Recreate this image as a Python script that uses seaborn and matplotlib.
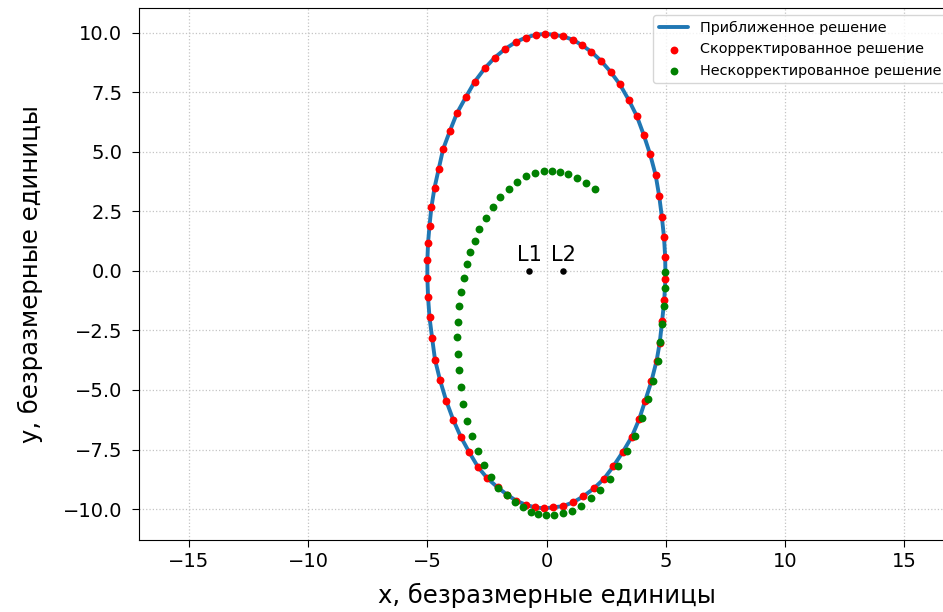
import numpy as np
import pandas as pd
import seaborn as sns
import matplotlib.pyplot as plt
from matplotlib.ticker import MultipleLocator, FuncFormatter

# Corrected solution (red points), going round counterclockwise
corr_x = [4.98, 4.93, 4.84, 4.73, 4.58, 4.35, 4.08, 3.79, 3.45, 3.08, 2.69, 2.29, 1.88, 1.49,
          1.10, 0.69, 0.31, -0.05, -0.45, -0.87, -1.29, -1.74, -2.17, -2.59, -3.01, -3.38,
          -3.76, -4.05, -4.34, -4.52, -4.70, -4.83, -4.91, -4.97, -5.00, -5.00, -4.97, -4.91,
          -4.80, -4.68, -4.47, -4.21, -3.92, -3.60, -3.24, -2.87, -2.48, -2.05, -1.65, -1.27,
          -0.87, -0.48, -0.10, 0.27, 0.68, 1.11, 1.54, 1.99, 2.41, 2.80, 3.21, 3.58, 3.89,
          4.14, 4.40, 4.62, 4.75, 4.85, 4.94, 4.99]
corr_y = [0.57, 1.41, 2.27, 3.13, 4.02, 4.89, 5.71, 6.50, 7.18, 7.83, 8.36, 8.82, 9.20, 9.48,
          9.71, 9.85, 9.92, 9.95, 9.92, 9.80, 9.61, 9.32, 8.96, 8.51, 7.95, 7.31,
          6.62, 5.89, 5.11, 4.30, 3.49, 2.68, 1.90, 1.18, 0.45, -0.29, -1.11, -1.95,
          -2.82, -3.72, -4.58, -5.45, -6.24, -6.96, -7.62, -8.24, -8.71, -9.09, -9.40, -9.65,
          -9.82, -9.93, -9.97, -9.93, -9.88, -9.72, -9.47, -9.13, -8.73, -8.21, -7.59, -6.96, -6.22,
          -5.45, -4.64, -3.77, -3.02, -2.12, -1.23, -0.33]

# Uncorrected solution (green points)
raw_x = [2.02, 1.64, 1.28, 0.91, 0.57, 0.22, -0.12, -0.48, -0.86, -1.22, -1.58, -1.95, -2.26,
         -2.55, -2.82, -3.00, -3.19, -3.35, -3.46, -3.58, -3.66, -3.71, -3.74, -3.73, -3.67,
         -3.60, -3.49, -3.32, -3.12, -2.88, -2.63, -2.33, -2.02, -1.66, -1.31, -0.99, -0.65,
         -0.34, -0.02, 0.33, 0.69, 1.07, 1.45, 1.87, 2.24, 2.65, 3.01, 3.36, 3.70, 3.99, 4.24,
         4.45, 4.66, 4.76, 4.84, 4.93, 4.98, 4.98]
raw_y = [3.42, 3.68, 3.91, 4.06, 4.17, 4.20, 4.19, 4.12, 3.98, 3.75, 3.46, 3.09, 2.69,
         2.24, 1.76, 1.27, 0.78, 0.28, -0.28, -0.87, -1.49, -2.13, -2.79, -3.47, -4.17,
         -4.86, -5.59, -6.29, -6.95, -7.57, -8.16, -8.67, -9.11, -9.43, -9.72, -9.93, -10.11,
         -10.21, -10.26, -10.25, -10.18, -10.10, -9.86, -9.55, -9.20, -8.74, -8.21, -7.56, -6.92,
         -6.16, -5.39, -4.61, -3.80, -3.00, -2.23, -1.46, -0.73, -0.06]

# Lagrange points
lagr_names = ["L1", "L2"]
lagr_x = [-0.72, 0.69]
lagr_y = [0.0, 0.0]

# approximated solution: closed curve through the corrected points
approx = pd.DataFrame({"x": corr_x + corr_x[:1], "y": corr_y + corr_y[:1]})

sns.set_style("ticks")
plt.rcParams["font.family"] = ["DejaVu Sans"]
plt.rcParams.update({"text.color": "black", "axes.labelcolor": "black",
                     "xtick.color": "black", "ytick.color": "black"})

fig = plt.figure(figsize=(9.43, 6.12), dpi=100)
ax = fig.add_axes([0.1474, 0.1176, 0.8643, 0.8693])

sns.lineplot(data=approx, x="x", y="y", sort=False, estimator=None, color="#1f77b4",
             linewidth=2.8, ax=ax, label="Приближенное решение", zorder=2)
sns.scatterplot(x=corr_x, y=corr_y, color="red", s=32, linewidth=0, ax=ax,
                label="Скорректированное решение", zorder=3)
sns.scatterplot(x=raw_x, y=raw_y, color="green", s=32, linewidth=0, ax=ax,
                label="Нескорректированное решение", zorder=4)
sns.scatterplot(x=lagr_x, y=lagr_y, color="black", s=22, linewidth=0, ax=ax, zorder=5)
for name, lx, ly in zip(lagr_names, lagr_x, lagr_y):
    ax.text(lx, ly + 0.43, name, ha="center", va="baseline", fontsize=15, color="black")

ax.set_xlim(-17.1, 17.1)
ax.set_ylim(-11.3, 11.04)
ax.xaxis.set_major_locator(MultipleLocator(5))
ax.yaxis.set_major_locator(MultipleLocator(2.5))
ax.xaxis.set_major_formatter(FuncFormatter(lambda v, p: f"{v:.0f}".replace("-", "\u2212")))
ax.yaxis.set_major_formatter(FuncFormatter(lambda v, p: f"{v:.1f}".replace("-", "\u2212")))
ax.tick_params(labelsize=14, length=5, color="black", labelcolor="black")
ax.tick_params(axis="y", pad=7)
ax.grid(True, linestyle=":", color="#c4c4c4", linewidth=0.9)
for s in ax.spines.values():
    s.set_color("black")

ax.set_xlabel("x, безразмерные единицы", fontsize=17.5, labelpad=9, color="black")
ax.set_ylabel("y, безразмерные единицы", fontsize=17.5, labelpad=14, color="black")
leg = ax.legend(loc="upper right", fontsize=10.4)
for t in leg.get_texts():
    t.set_color("black")

fig.savefig("out.png", dpi=100)
